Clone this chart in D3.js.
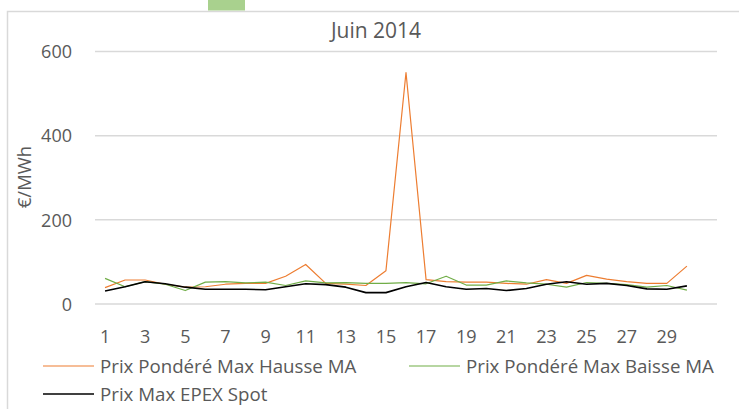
<!DOCTYPE html>
<html>
<head>
<meta charset="utf-8">
<script src="https://cdn.jsdelivr.net/npm/d3@7"></script>
<style>
  body { margin: 0; background: #fff; }
  text { font-family: "Open Sans", sans-serif; fill: #595959; }
</style>
</head>
<body>
<svg id="chart" width="739" height="409"></svg>
<script>
// days of June 2014 (31 slots on the category axis, last one empty)
const days = d3.range(1, 32);
const tickDays = [1, 3, 5, 7, 9, 11, 13, 15, 17, 19, 21, 23, 25, 27, 29];
const yTicks = [0, 200, 400, 600];

const hausse = [39, 57, 57, 47, 40, 41, 47, 49, 49, 66, 94, 49, 47, 44, 79, 550, 58, 53, 52, 52, 49, 47, 58, 49, 68, 59, 53, 49, 49, 90];
const baisse = [61, 41, 53, 47, 32, 52, 53, 50, 52, 44, 55, 50, 51, 49, 49, 51, 48, 66, 45, 45, 55, 50, 47, 40, 51, 49, 46, 40, 44, 33];
const epex   = [31, 41, 53, 48, 40, 35, 35, 35, 34, 41, 48, 46, 40, 27, 27, 41, 51, 41, 35, 37, 32, 37, 47, 53, 47, 49, 44, 36, 35, 43];

const series = [
  {name: "Prix Pondéré Max Hausse MA", values: hausse, color: "#ED7D31", width: 1.2},
  {name: "Prix Pondéré Max Baisse MA", values: baisse, color: "#70AD47", width: 1.2},
  {name: "Prix Max EPEX Spot", values: epex, color: "#000000", width: 1.6}
];

const svg = d3.select("#chart");

// chart frame (top and left edges visible, rest cut off)
svg.append("rect")
  .attr("x", 7.5).attr("y", 11.5)
  .attr("width", 760).attr("height", 420)
  .attr("fill", "none").attr("stroke", "#d9d9d9").attr("stroke-width", 1.5);

// little green tab sticking out above the frame
svg.append("rect")
  .attr("x", 208).attr("y", 0).attr("width", 37).attr("height", 10.5)
  .attr("fill", "#a9d18e");

const x = d3.scaleBand().domain(days).range([95, 717]);
const y = d3.scaleLinear().domain([0, 600]).range([304, 51.5]);

// gridlines
svg.append("g").selectAll("line").data(yTicks).join("line")
  .attr("x1", 95).attr("x2", 717)
  .attr("y1", d => y(d)).attr("y2", d => y(d))
  .attr("stroke", "#d9d9d9").attr("stroke-width", 1.5);

// y axis labels
const yAxis = d3.axisLeft(y).tickValues(yTicks).tickSize(0).tickPadding(0);
svg.append("g").attr("transform", "translate(72,0)").call(yAxis)
  .call(g => g.select(".domain").remove())
  .selectAll("text").style("font-size", "18px").attr("dy", "0.35em");

// x axis labels
const xAxis = d3.axisBottom(x).tickValues(tickDays).tickSize(0).tickPadding(0);
svg.append("g").attr("transform", "translate(0,330)").call(xAxis)
  .call(g => g.select(".domain").remove())
  .selectAll("text").style("font-size", "18px").attr("dy", "0.71em");

// lines
const line = d3.line()
  .x((d, i) => x(days[i]) + x.bandwidth() / 2)
  .y(d => y(d));

svg.append("g").selectAll("path").data(series).join("path")
  .attr("d", d => line(d.values))
  .attr("fill", "none")
  .attr("stroke", d => d.color)
  .attr("stroke-width", d => d.width)
  .attr("stroke-linejoin", "round");

// title
svg.append("text").attr("x", 376).attr("y", 38)
  .attr("text-anchor", "middle").style("font-size", "21px").text("Juin 2014");

// y axis title
svg.append("text")
  .attr("transform", "translate(31,177) rotate(-90)")
  .attr("text-anchor", "middle").style("font-size", "18.5px").text("€/MWh");

// legend
const legendPos = [{lx: 43, ty: 366}, {lx: 409, ty: 366}, {lx: 43, ty: 394}];
const legend = svg.append("g").selectAll("g").data(series).join("g")
  .attr("transform", (d, i) => `translate(${legendPos[i].lx},${legendPos[i].ty})`);
legend.append("line").attr("x1", 0).attr("x2", 51)
  .attr("stroke", d => d.color).attr("stroke-width", d => d.width);
legend.append("text").attr("x", 57).attr("dy", "0.35em")
  .style("font-size", "18.7px").text(d => d.name);
</script>
</body>
</html>
